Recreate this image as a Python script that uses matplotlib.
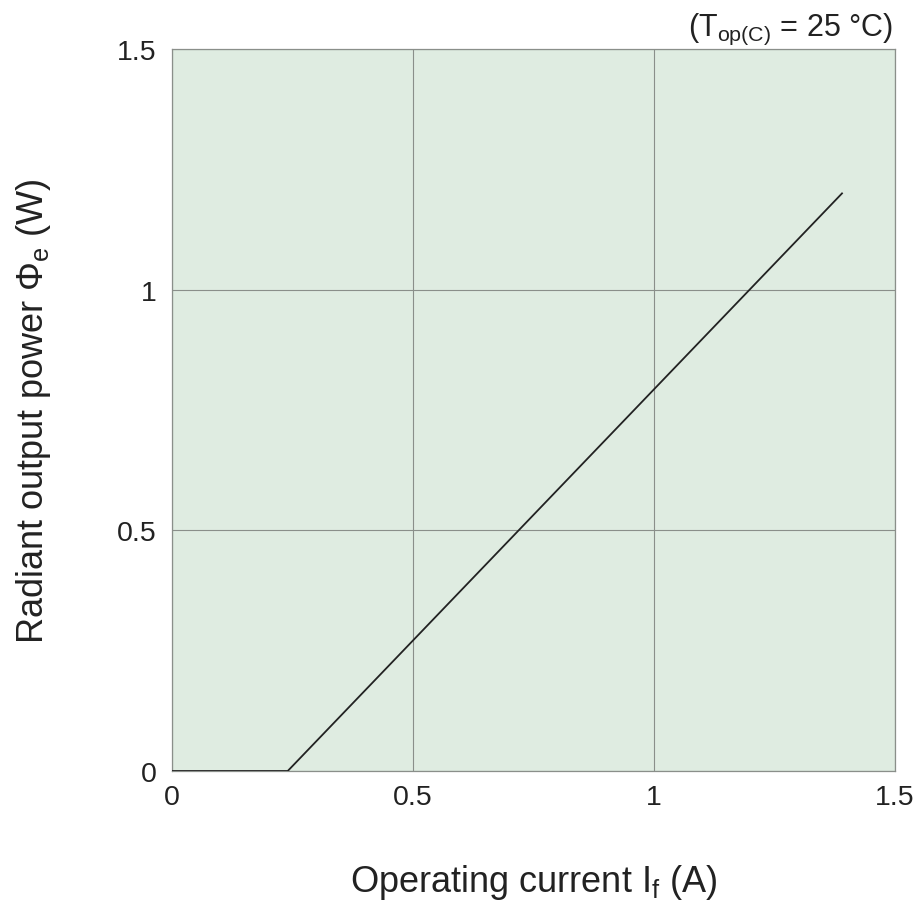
import matplotlib
matplotlib.use('Agg')
import matplotlib.pyplot as plt

# Radiant output power vs. operating current
current = [0.0, 0.24, 1.39]
power = [0.0, 0.0, 1.20]
ticks = [0, 0.5, 1, 1.5]
tick_labels = ['0', '0.5', '1', '1.5']

plt.rcParams['font.family'] = ['Liberation Sans', 'DejaVu Sans']
plt.rcParams['mathtext.fontset'] = 'custom'
plt.rcParams['mathtext.rm'] = 'Liberation Sans'
plt.rcParams['mathtext.it'] = 'Liberation Sans'

fig = plt.figure(figsize=(9.21, 9.12), dpi=100)
ax = fig.add_axes([0.1868, 0.1535, 0.7850, 0.7917])
ax.set_facecolor('#dfece1')

ax.plot(current, power, color='#222222', lw=1.3, zorder=3)

ax.set_xlim(0, 1.5)
ax.set_ylim(0, 1.5)
ax.set_xticks(ticks)
ax.set_xticklabels(tick_labels)
ax.set_yticks(ticks)
ax.set_yticklabels(tick_labels)
ax.tick_params(length=0, labelsize=20.5, colors='#222222', pad=9)
ax.tick_params(axis='y', pad=11)
ax.grid(True, color='#8a8f8a', lw=0.8)
for s in ax.spines.values():
    s.set_color('#8a8f8a')
    s.set_linewidth(0.9)

ax.set_xlabel('Operating current I$_\\mathrm{f}$ (A)', fontsize=26, labelpad=38, color='#222222')
ax.set_ylabel('Radiant output power \u03a6$_\\mathrm{e}$ (W)', fontsize=26, labelpad=46, color='#222222')

fig.text(0.970, 0.9605, '(T$_\\mathrm{op(C)}$ = 25 \u00b0C)', ha='right', va='baseline',
         fontsize=22, color='#222222')

fig.savefig('out.png', dpi=100)
